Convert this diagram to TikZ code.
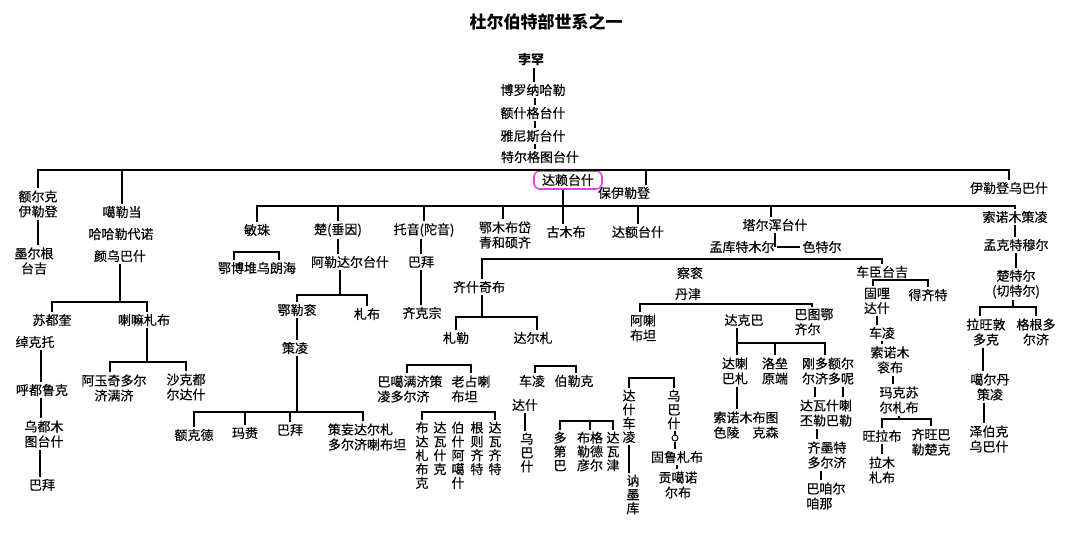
\documentclass[tikz,border=0pt]{standalone}
\usepackage{fontspec}
\setmainfont{Noto Sans CJK SC}[UprightFeatures={FakeBold=0.35}]
\usepackage{tikz}
\usetikzlibrary{positioning}
\definecolor{hlpink}{RGB}{232,64,232}

\begin{document}
\begin{tikzpicture}[
		x=1pt, y=-1pt
		,line width=1.4pt
		,every node/.append style={inner sep=1.5pt, font=\fontsize{13}{15}\selectfont, align=center}
		,lf/.style={align=left}
		,vt/.style={anchor=north, inner sep=1pt, font=\fontsize{13}{13.8}\selectfont}
		,hl/.style={draw=hlpink, rounded corners=6pt, line width=1.6pt, inner xsep=8pt, inner ysep=3pt}
		,ti/.style={font=\bfseries\fontsize{17}{20}\selectfont}
	]
	\useasboundingbox (0,0) rectangle (1080,542);
	\node [ti] (title) at (546,22) {杜尔伯特部世系之一};

	\node [font=\bfseries\fontsize{13}{15}\selectfont] (bh) at (531,60) {孛罕};
	\node (blnhl) at (533,90) {博罗纳哈勒};
	\node (esgts) at (533,113) {额什格台什};
	\node (ynsts) at (533,136) {雅尼斯台什};
	\node (tegts) at (540,157) {特尔格图台什};
	\draw ([xshift=3pt]bh.south) -- ([xshift=3pt]bh.south |- blnhl.north);
	\draw ([xshift=2pt]blnhl.south) -- ([xshift=2pt]blnhl.south |- esgts.north);
	\draw ([xshift=2pt]esgts.south) -- ([xshift=2pt]esgts.south |- ynsts.north);
	\draw ([xshift=2pt]ynsts.south) -- ([xshift=2pt]ynsts.south |- tegts.north);

	\coordinate (k0) at (540,170);
	\node (erk) at (38,204) {额尔克\\伊勒登};
	\node (mrg) at (34,261) {墨尔根\\台吉};
	\node (gld) at (122,212) {噶勒当};
	\node (hhl) at (121,234) {哈哈勒代诺};
	\node (ywb) at (120,256) {颜乌巴什};
	\node (sdk) at (52,320) {苏都奎};
	\node (lmz) at (144,320) {喇嘛札布};
	\node (ckt) at (35,342) {绰克托};
	\node (hdl) at (42,390) {呼都鲁克};
	\node (wdm) at (44,434) {乌都木\\图台什};
	\node (bb1) at (42,485) {巴拜};
	\node (ayq) at (114,388) {阿玉奇多尔\\济满济};
	\node (skd) at (186,387) {沙克都\\尔达什};
	\node [hl] (dl) at (568,180) {达赖台什};
	\node (byd) at (624,193) {保伊勒登};
	\node (ildub) at (1009,188) {伊勒登乌巴什};

	\draw (erk.north) |- (k0) -| (ildub.north);
	\draw (gld.north) -- (gld.north |- k0);
	\draw ([xshift=22pt]byd.north) -- ([xshift=22pt]byd.north |- k0);
	\draw (erk.south) -- (erk.south |- mrg.north);
	\coordinate (k17) at (100,302);
	\coordinate (k18) at (150,362);
	\draw (ywb.south) -- (ywb.south |- k17);
	\draw (sdk.north) |- (k17) -| ([xshift=3pt]lmz.north);
	\draw ([xshift=3pt]lmz.south) -- ([xshift=3pt]lmz.south |- k18);
	\draw ([xshift=-4pt]ayq.north) |- (k18) -| (skd.north);
	\draw ([xshift=6pt]ckt.south) -- ([xshift=6pt]ckt.south |- hdl.north);
	\draw ([xshift=-1pt]hdl.south) -- ([xshift=-1pt]hdl.south |- wdm.north);
	\draw ([xshift=-4pt]wdm.south) -- ([xshift=-4pt]wdm.south |- bb1.north);

	\coordinate (k1) at (600,206);
	\node (mz) at (257,230) {敏珠};
	\node (cu) at (338,230) {楚(垂因)};
	\node (ty) at (424,230) {托音(陀音)};
	\node (emb) at (505,235) {鄂木布岱\\青和硕齐};
	\node (gmb) at (566,232) {古木布};
	\node (det) at (638,232) {达额台什};
	\node (teh) at (775,225) {塔尔浑台什};
	\node (sncl) at (1015,217) {索诺木策凌};
	\draw (mz.north) |- (k1) -| (sncl.north);
	\draw (cu.north) -- (cu.north |- k1);
	\draw (ty.north) -- (ty.north |- k1);
	\draw ([xshift=-2pt]emb.north) -- ([xshift=-2pt]emb.north |- k1);
	\draw ([xshift=-5pt]dl.south) -- ([xshift=-5pt]dl.south |- gmb.north);
	\draw (det.north) -- (det.north |- k1);
	\draw ([xshift=-4pt]teh.north) -- ([xshift=-4pt]teh.north |- k1);

	\node (ebd) at (257,268) {鄂博堆乌朗海};
	\coordinate (k2) at (257,252);
	\draw ([xshift=-23pt]ebd.north) |- (k2) -| ([xshift=22pt]ebd.north);
	\node (ald) at (350,262) {阿勒达尔台什};
	\node (elg) at (297,310) {鄂勒衮};
	\node (zb1) at (367,314) {札布};
	\node (cl1) at (295,348) {策凌};
	\node (ekd) at (194,435) {额克德};
	\node (ml) at (245,433) {玛赉};
	\node (bb2) at (290,430) {巴拜};
	\node [lf] (cwd) at (367,437) {策妄达尔札\\多尔济喇布坦};
	\coordinate (k3) at (330,295);
	\coordinate (k4) at (280,412);
	\draw (cu.south) -- (cu.south |- ald.north);
	\draw ([xshift=-10pt]ald.south) -- ([xshift=-10pt]ald.south |- k3);
	\draw (elg.north) |- (k3) -| (zb1.north);
	\draw (elg.south) -- (elg.south |- cl1.north);
	\draw ([xshift=2pt]cl1.south) -- ([xshift=2pt]cl1.south |- k4);
	\draw (ekd.north) |- (k4) -| ([xshift=-4pt]cwd.north);
	\draw (ml.north) -- (ml.north |- k4);
	\draw (bb2.north) -- (bb2.north |- k4);
	\node (bb3) at (421,262) {巴拜};
	\node (qkz) at (422,313) {齐克宗};
	\draw (bb3.north) -- (bb3.north |- ty.south);
	\draw (bb3.south) -- (bb3.south |- qkz.north);

	\node (mkt) at (742,247) {孟库特木尔};
	\node (stl) at (822,247) {色特尔};
	\draw (teh.south) -- (teh.south |- mkt.east);
	\draw (mkt.east) -- (stl.west);
	\node (qsq) at (479,287) {齐什奇布};
	\node (cg) at (690,273) {察衮};
	\node (dj) at (688,294) {丹津};
	\node (cct) at (882,272) {车臣台吉};
	\coordinate (k5) at (700,259);
	\draw ([xshift=3pt]qsq.north) |- (k5) -| (cct.north);

	\node (zl) at (456,338) {札勒};
	\node (dez) at (533,338) {达尔札};
	\node [lf] (bgm) at (410,389) {巴噶满济策\\凌多尔济};
	\node [lf] (lzl) at (471,389) {老占喇\\布坦};
	\node [vt] (vbd) at (422,420) {布\\达\\札\\布\\克};
	\node [vt] (vdw) at (440,420) {达\\瓦\\什\\克};
	\node [vt] (vbs) at (458,420) {伯\\什\\阿\\噶\\什};
	\node [vt] (vgz) at (477,420) {根\\则\\齐\\特};
	\node [vt] (vdq) at (495,420) {达\\瓦\\齐\\特};
	\coordinate (k6) at (500,317);
	\coordinate (k7) at (440,365);
	\coordinate (k8) at (460,412);
	\draw ([xshift=3pt]qsq.south) -- ([xshift=3pt]qsq.south |- k6);
	\draw (zl.north) |- (k6) -| ([xshift=4pt]dez.north);
	\draw ([xshift=-3pt]bgm.north) |- (k7) -| (lzl.north);
	\draw (vbd.north) |- (k8) -| (vdq.north);

	\node (cl2) at (532,381) {车凌};
	\node (blk) at (574,381) {伯勒克};
	\node (ds1) at (525,405) {达什};
	\node [vt] (vwb1) at (527,431) {乌\\巴\\什};
	\node [vt] (vdd) at (560,430) {多\\第\\巴};
	\node [vt] (vbg) at (590,430) {布格\\勒德\\彦尔};
	\node [vt] (vdj) at (613,430) {达\\瓦\\津};
	\coordinate (k9) at (555,366);
	\coordinate (k10) at (590,421);
	\draw ([xshift=3pt]cl2.north) |- (k9) -| ([xshift=2pt]blk.north);
	\draw (ds1.south) -- (ds1.south |- vwb1.north);
	\draw (vdd.north) |- (k10) -| (vdj.north);
	\draw (vbg.north) -- (vbg.north |- k10);

	\node (alb) at (643,328) {阿喇\\布坦};
	\node (dkb) at (744,320) {达克巴};
	\node [lf] (btq) at (814,322) {巴图鄂\\齐尔};
	\coordinate (k11) at (720,304);
	\draw ([xshift=-3pt]alb.north) |- (k11) -| ([xshift=-2pt]btq.north);
	\node [vt] (vdc) at (629,388) {达\\什\\车\\凌};
	\node [vt] (vnm) at (633,473) {讷\\墨\\库};
	\node [vt] (vwb2) at (674,388) {乌\\巴\\什};
	\node [circle, draw, line width=1pt, inner sep=0pt, minimum size=6pt] (ring) at (675,438) {};
	\node (glz) at (677,457) {固鲁札布};
	\node (ggn) at (678,485) {贡噶诺\\尔布};
	\coordinate (k12) at (650,378);
	\draw (vdc.north) |- (k12) -| (vwb2.north);
	\draw (vdc.south) -- (vdc.south |- vnm.north);
	\draw (vwb2.south -| ring) -- (ring);
	\draw (ring) -- (ring |- glz.north);
	\draw (glz.south) -- (glz.south |- ggn.north);

	\node (dlb) at (735,371) {达喇\\巴札};
	\node (lly) at (775,371) {洛垒\\原端};
	\node (gdr) at (828,371) {刚多额尔\\尔济多呢};
	\node (snb) at (746,425) {索诺木布图\\色陵\quad 克森};
	\node (dws) at (826,413) {达瓦什喇\\丕勒巴勒};
	\node (qmt) at (827,455) {齐墨特\\多尔济};
	\node [lf] (bze) at (826,496) {巴咱尔\\咱那};
	\coordinate (k13) at (780,343);
	\draw ([xshift=-7pt]dkb.south) -- ([xshift=-7pt]dkb.south |- k13);
	\draw ([xshift=2pt]dlb.north) |- (k13) -| ([xshift=-3pt]gdr.north);
	\draw (lly.north) -- (lly.north |- k13);
	\draw ([xshift=2pt]dlb.south) -- ([xshift=2pt]dlb.south |- snb.north);
	\draw ([xshift=-13pt]gdr.south) -- ([xshift=-13pt]gdr.south |- dws.north);
	\draw ([xshift=15pt]gdr.south) -- ([xshift=15pt]gdr.south |- dws.north);
	\draw ([xshift=-9pt]dws.south) -- ([xshift=-9pt]dws.south |- qmt.north);
	\draw ([xshift=-6pt]qmt.south) -- ([xshift=-6pt]qmt.south |- bze.north);

	\node (gld2) at (877,301) {固哩\\达什};
	\node (dqt) at (928,295) {得齐特};
	\node (cl3) at (882,333) {车凌};
	\node (snk) at (890,360) {索诺木\\衮布};
	\node (mks) at (899,400) {玛克苏\\尔札布};
	\node (wlb) at (882,436) {旺拉布};
	\node (qwb) at (931,442) {齐旺巴\\勒楚克};
	\node (lmz2) at (882,470) {拉木\\札布};
	\coordinate (k14) at (900,280);
	\coordinate (k15) at (900,419);
	\draw ([xshift=-4pt]gld2.north) |- (k14) -| (dqt.north);
	\draw (gld2.south) -- (gld2.south |- cl3.north);
	\draw (cl3.south) -- (cl3.south |- snk.north);
	\draw ([xshift=3pt]snk.south) -- ([xshift=3pt]snk.south |- mks.north);
	\draw (mks.south) -- (mks.south |- k15);
	\draw (wlb.north) |- (k15) -| (qwb.north);
	\draw (wlb.south) -- (wlb.south |- lmz2.north);

	\node (mkt2) at (1016,245) {孟克特穆尔};
	\node (ctr) at (1016,284) {楚特尔\\(切特尔)};
	\node (lwd) at (986,332) {拉旺敦\\多克};
	\node (ggd) at (1036,332) {格根多\\尔济};
	\node (gdc) at (990,387) {噶尔丹\\策凌};
	\node (zbk) at (989,439) {泽伯克\\乌巴什};
	\coordinate (k16) at (1010,307);
	\draw (sncl.south) -- (sncl.south |- mkt2.north);
	\draw (mkt2.south) -- (mkt2.south |- ctr.north);
	\draw ([xshift=-3pt]ctr.south) -- ([xshift=-3pt]ctr.south |- k16);
	\draw ([xshift=-6pt]lwd.north) |- (k16) -| (ggd.north);
	\draw ([xshift=-3pt]lwd.south) -- ([xshift=-3pt]lwd.south |- gdc.north);
	\draw ([xshift=-6pt]gdc.south) -- ([xshift=-6pt]gdc.south |- zbk.north);
\end{tikzpicture}
\end{document}
